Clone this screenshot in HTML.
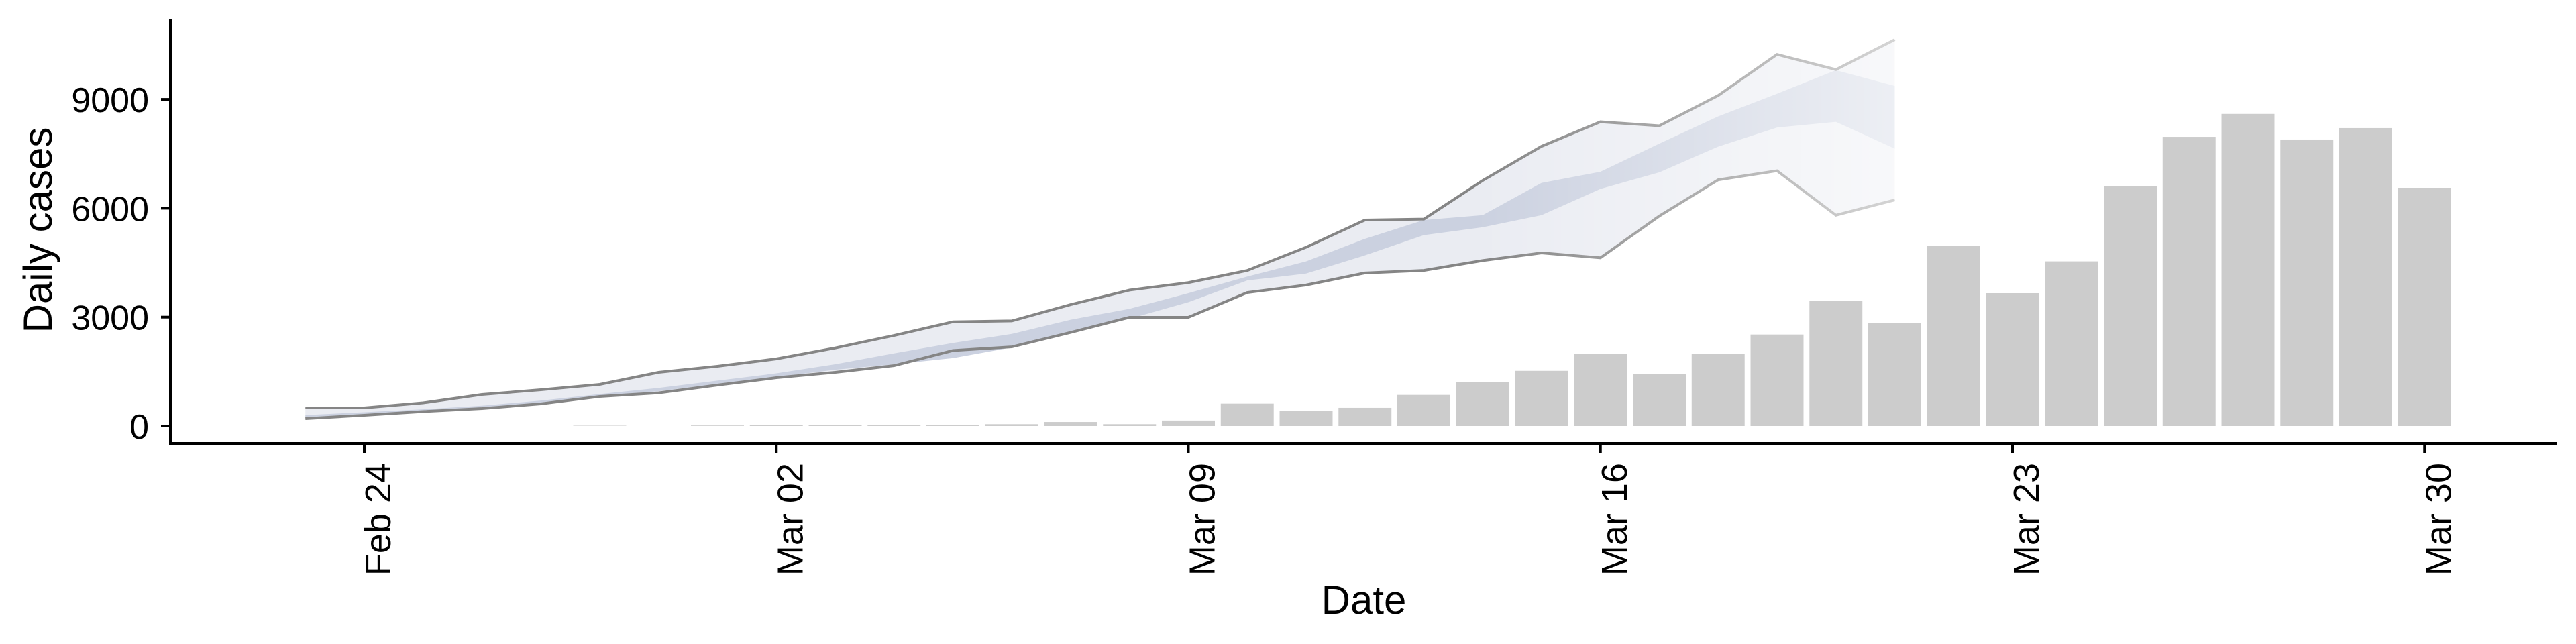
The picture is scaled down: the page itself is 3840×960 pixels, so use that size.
<!DOCTYPE html>
<html><head><meta charset="utf-8"><style>
html,body{margin:0;padding:0;background:#fff;}
svg{display:block;font-family:"Liberation Sans",sans-serif;}
</style></head><body>
<svg id="chart" width="3840" height="960" viewBox="0 0 3840 960" xmlns="http://www.w3.org/2000/svg">
<defs>
<linearGradient id="fade" gradientUnits="userSpaceOnUse" x1="2200" y1="0" x2="2830" y2="0">
<stop offset="0" stop-color="#fff" stop-opacity="1"/>
<stop offset="1" stop-color="#fff" stop-opacity="0.35"/>
</linearGradient>
<mask id="fadeMask" maskUnits="userSpaceOnUse" x="0" y="0" width="3840" height="960">
<rect x="0" y="0" width="2200" height="960" fill="#fff"/>
<rect x="2200" y="0" width="1640" height="960" fill="url(#fade)"/>
</mask>
</defs>
<g id="bars"></g>
<g id="ribbon" mask="url(#fadeMask)"></g>
<g id="axes"></g>
</svg>
<script>
const barDays = [4,5,6,7,8,9,10,11,12,13,14,15,16,17,18,19,20,21,22,23,24,25,26,27,28,29,30,31,32,33,34,35];
const barValues = [10,0,15,20,25,30,30,50,110,50,150,616,425,500,856,1220,1520,1987,1423,1987,2520,3440,2838,4972,3660,4536,6604,7966,8599,7893,8208,6562];
const ribbonDays = [-1,0,1,2,3,4,5,6,7,8,9,10,11,12,13,14,15,16,17,18,19,20,21,22,23,24,25,26];
const outerUpper = [499,499,637,869,998,1146,1478,1645,1848,2150,2495,2870,2894,3345,3744,3951,4284,4925,5674,5699,6764,7706,8381,8272,9105,10238,9820,10645];
const outerLower = [203,296,397,480,610,813,913,1127,1330,1478,1663,2079,2180,2578,2994,2994,3677,3884,4217,4287,4559,4768,4634,5784,6782,7032,5808,6228];
const innerUpper = [300,380,460,560,700,880,1050,1250,1450,1700,2000,2287,2537,2927,3227,3661,4118,4535,5158,5675,5808,6699,7006,7780,8530,9155,9803,9370];
const innerLower = [230,310,400,490,620,830,960,1150,1350,1550,1700,1870,2162,2578,2953,3410,4010,4200,4701,5258,5476,5808,6533,6989,7697,8224,8381,7641];
const yTicks = [0,3000,6000,9000];
const xTickDays = [0,7,14,21,28,35];
const xTickLabels = ["Feb 24","Mar 02","Mar 09","Mar 16","Mar 23","Mar 30"];

const NS="http://www.w3.org/2000/svg";
const X0=543, DAY=87.75, Y0=635, PER=162.3/3000;
const xs=d=>X0+d*DAY;
const ys=v=>Y0-v*PER;
function mk(tag,attrs,parent){const e=document.createElementNS(NS,tag);for(const k in attrs)e.setAttribute(k,attrs[k]);parent.appendChild(e);return e;}

const gb=document.getElementById('bars');
barDays.forEach((d,i)=>{
  const w=DAY*0.9, top=ys(barValues[i]);
  const r=mk('rect',{x:xs(d)-w/2,y:top,width:w,height:Math.max(Y0-top,0.0001),fill:'#cccccc'},gb);
  
  
});

const gr=document.getElementById('ribbon');
function band(up,lo,fill,name){
  let p=ribbonDays.map((d,i)=>xs(d)+','+ys(up[i])).join(' ');
  p+=' '+ribbonDays.map((d,i)=>xs(d)+','+ys(lo[i])).reverse().join(' ');
  const e=mk('polygon',{points:p,fill:fill},gr);
  
  
}
band(outerUpper,outerLower,'#eaecf2','outer-band');
band(innerUpper,innerLower,'#cbd1e0','inner-band');
function line(vals,name){
  const e=mk('polyline',{points:ribbonDays.map((d,i)=>xs(d)+','+ys(vals[i])).join(' '),fill:'none',stroke:'#858585','stroke-width':4},gr);
  
  
}
line(outerUpper,'upper-bound-line');
line(outerLower,'lower-bound-line');

const ga=document.getElementById('axes');
let e=mk('line',{x1:254,y1:29,x2:254,y2:663,stroke:'#000','stroke-width':4},ga);


e=mk('line',{x1:252,y1:661,x2:3812,y2:661,stroke:'#000','stroke-width':4},ga);


yTicks.forEach(v=>{
  const t=mk('line',{x1:240,y1:ys(v),x2:254,y2:ys(v),stroke:'#000','stroke-width':4},ga);
  
  
  const l=mk('text',{x:222,y:ys(v)+19,'text-anchor':'end','font-size':52,fill:'#000'},ga);
  l.textContent=v;
  
  
});
xTickDays.forEach((d,i)=>{
  const t=mk('line',{x1:xs(d),y1:661,x2:xs(d),y2:676,stroke:'#000','stroke-width':4},ga);
  
  
  const l=mk('text',{x:0,y:0,'text-anchor':'end','font-size':54,fill:'#000',transform:'translate('+(xs(d)+39)+',690) rotate(-90)'},ga);
  l.textContent=xTickLabels[i];
  
  
});
e=mk('text',{x:2033,y:915,'text-anchor':'middle','font-size':60,fill:'#000'},ga);
e.textContent='Date';


e=mk('text',{x:0,y:0,'text-anchor':'middle','font-size':60,fill:'#000',transform:'translate(77,343) rotate(-90)'},ga);
e.textContent='Daily cases';


</script>
</body></html>
